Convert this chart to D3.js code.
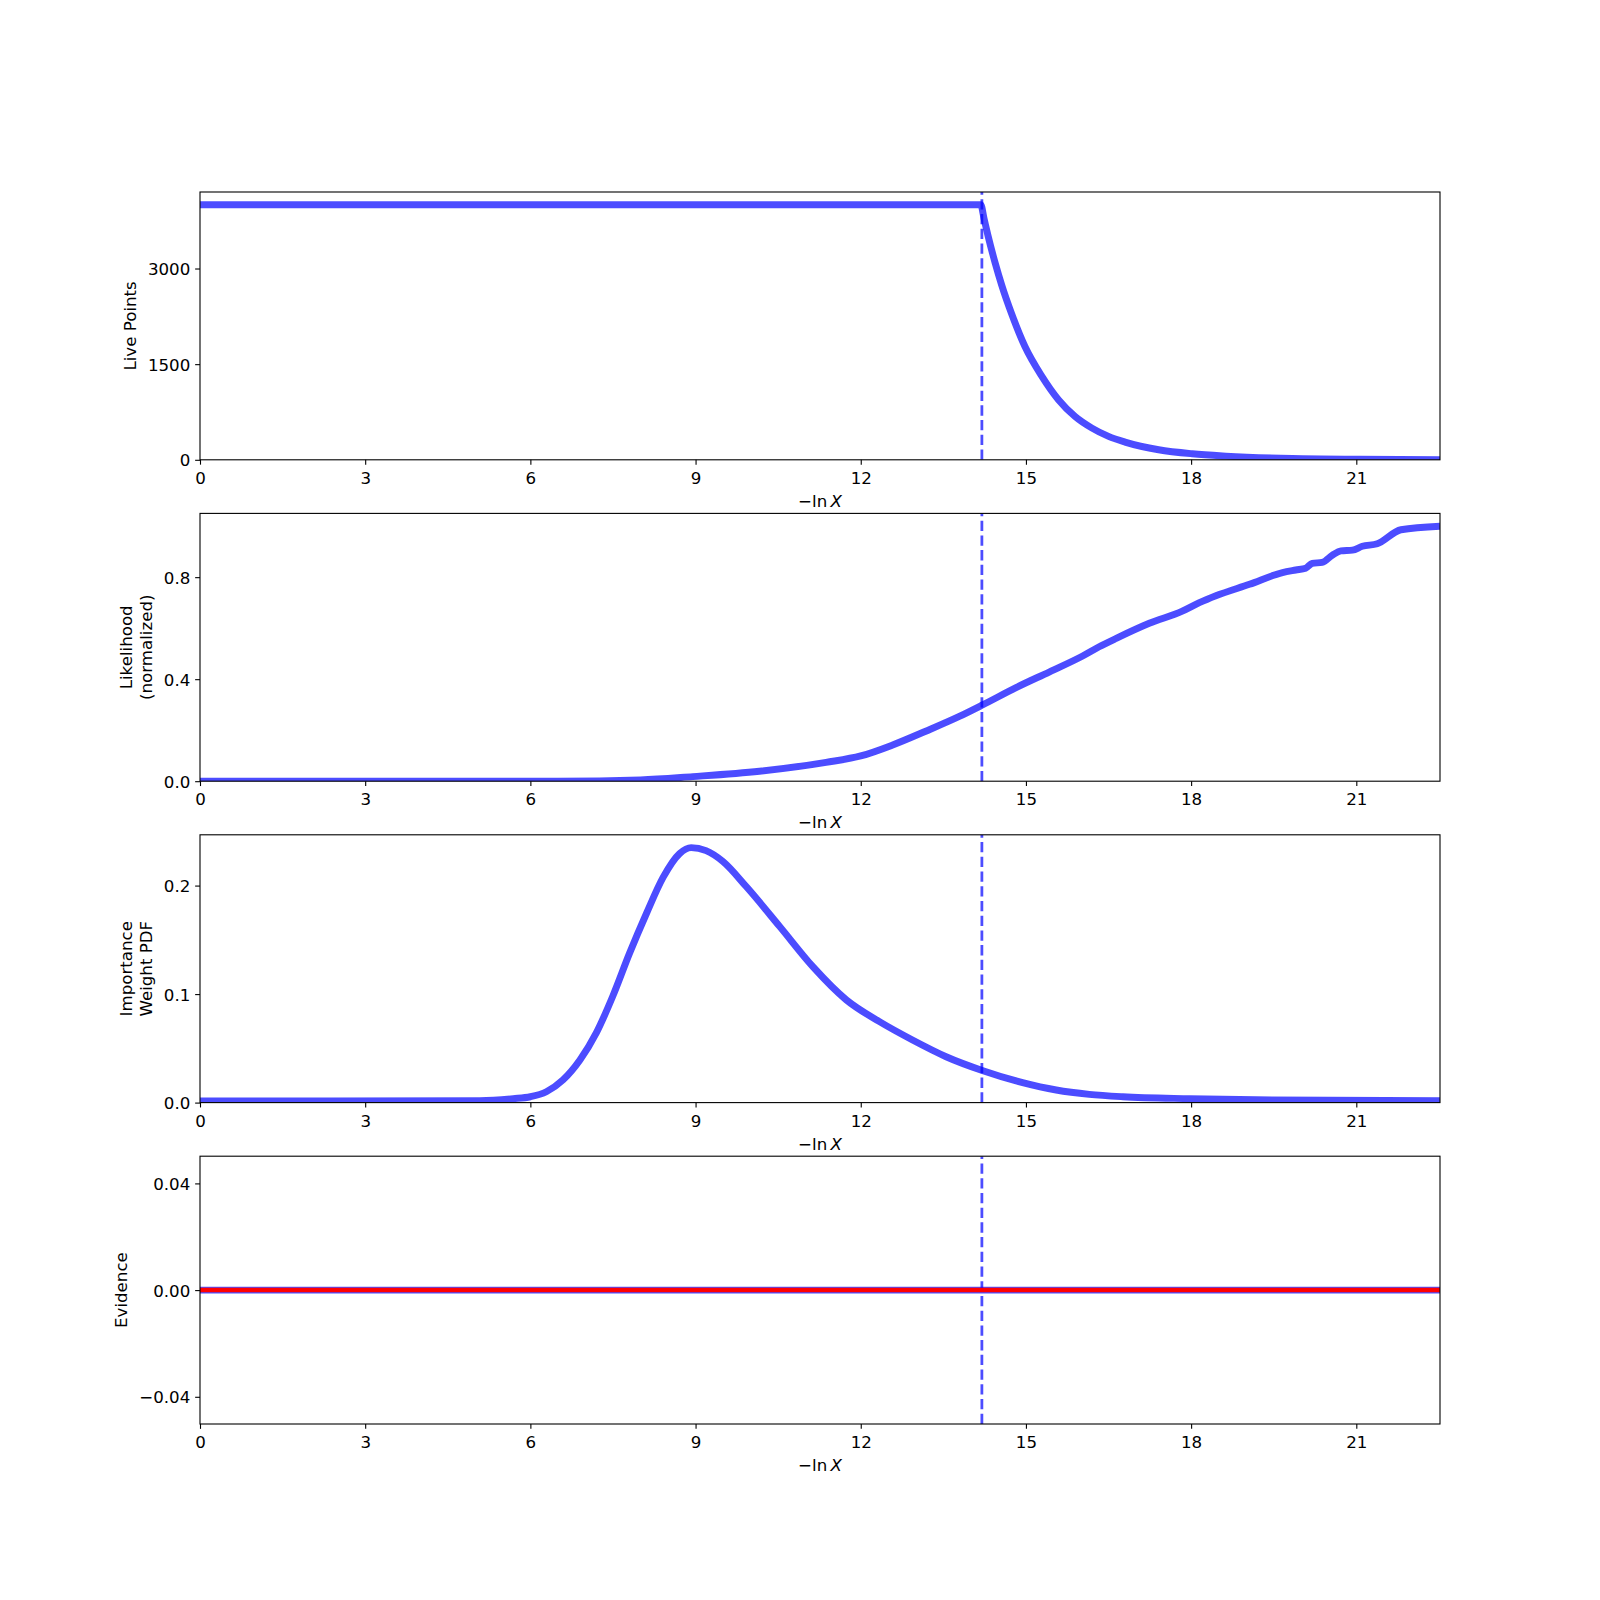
<!DOCTYPE html>
<html>
<head>
<meta charset="utf-8">
<script src="https://cdn.jsdelivr.net/npm/d3@7"></script>
<style>
  html, body { margin: 0; padding: 0; background: #fff; }
  svg { display: block; }
  text { font-family: "DejaVu Sans", sans-serif; fill: #000; }
</style>
</head>
<body>
<svg id="chart" width="1600" height="1600"></svg>
<script>
// ---------------- data ----------------
const xMax = 22.52;
const xTicks = [0, 3, 6, 9, 12, 15, 18, 21];
const cutLogVol = 14.2;   // dashed vertical marker

const liveX = [0, 14.18, 14.24, 14.31, 14.44, 14.56, 14.74, 14.98, 15.29, 15.59, 15.89, 16.20, 16.50, 16.80, 17.41, 18.02, 18.63, 19.84, 21.05, 22.52];
const liveY = [4000, 4000, 3780, 3520, 3090, 2740, 2290, 1780, 1309, 943, 681, 497, 367, 278, 157, 94, 58, 20, 8, 2];
const liveTicks = [0, 1500, 3000];

const likeX = [0, 6.5, 8.0, 8.95, 10.16, 11.37, 12.0, 12.58, 13.18, 13.79, 14.22, 14.82, 15.43, 16.03, 16.33, 16.64, 17.24, 17.84, 18.15, 18.45, 19.06, 19.66, 19.9, 20.08, 20.2, 20.38, 20.57, 20.72, 20.93, 21.11, 21.38, 21.81, 22.52];
const likeY = [0, 0, 0.005, 0.018, 0.039, 0.074, 0.099, 0.142, 0.196, 0.254, 0.300, 0.367, 0.429, 0.491, 0.527, 0.560, 0.619, 0.667, 0.700, 0.727, 0.772, 0.818, 0.828, 0.835, 0.854, 0.858, 0.887, 0.903, 0.906, 0.921, 0.931, 0.986, 1.0];
const likeTicks = [0.0, 0.4, 0.8];

const pdfX = [0, 5.08, 5.69, 6.0, 6.29, 6.59, 6.90, 7.20, 7.50, 7.80, 8.11, 8.41, 8.71, 8.92, 9.19, 9.50, 9.92, 10.53, 11.13, 11.74, 12.34, 12.94, 13.55, 14.22, 14.94, 15.55, 16.15, 16.76, 17.97, 19.18, 22.52];
const pdfY = [0.0015, 0.0018, 0.0036, 0.0054, 0.010, 0.0208, 0.0393, 0.0645, 0.0985, 0.1375, 0.1745, 0.2075, 0.2295, 0.2350, 0.2322, 0.2221, 0.1991, 0.1622, 0.1253, 0.0946, 0.0746, 0.0577, 0.0423, 0.0294, 0.0184, 0.0116, 0.0076, 0.0054, 0.0036, 0.0026, 0.0018];
const pdfTicks = [0.0, 0.1, 0.2];

const evX = [0, 22.52];
const evY = [0, 0];
const evTruth = 0;
const evTicks = [-0.04, 0.00, 0.04];

const yLabels = [["Live Points"], ["Likelihood", "(normalized)"], ["Importance", "Weight PDF"], ["Evidence"]];

// ---------------- layout ----------------
const svg = d3.select("#chart");
const L = 200, R = 1440, H = 267.8;
const tops = [192, 513.4, 834.8, 1156.2];
const FS = 16.67;
const tickLen = 4.86;
const blue = "#0000ff";

const x = d3.scaleLinear().domain([0, xMax]).range([L, R]);

const panels = [
  { xs: liveX, ys: liveY, domain: [0, 4200], ticks: liveTicks, fmt: d3.format("d"), curve: d3.curveMonotoneX },
  { xs: likeX, ys: likeY, domain: [0, 1.05], ticks: likeTicks, fmt: d3.format(".1f"), curve: d3.curveMonotoneX },
  { xs: pdfX, ys: pdfY, domain: [0, 0.2468], ticks: pdfTicks, fmt: d3.format(".1f"), curve: d3.curveMonotoneX },
  { xs: evX, ys: evY, domain: [-0.0502, 0.0502], ticks: evTicks, fmt: d3.format(".2f"), curve: d3.curveLinear }
];

panels.forEach((p, i) => {
  const top = tops[i], bottom = top + H;
  const y = d3.scaleLinear().domain(p.domain).range([bottom, top]);
  const g = svg.append("g");

  const clipId = "clip" + i;
  svg.append("clipPath").attr("id", clipId)
    .append("rect").attr("x", L).attr("y", top).attr("width", R - L).attr("height", H);

  const plot = g.append("g").attr("clip-path", `url(#${clipId})`);
  const pts = p.xs.map((v, k) => [v, p.ys[k]]);
  const line = d3.line().x(d => x(d[0])).y(d => y(d[1])).curve(p.curve);

  // dashed marker (drawn bottom to top like matplotlib)
  plot.append("line")
    .attr("x1", x(cutLogVol)).attr("x2", x(cutLogVol))
    .attr("y1", bottom).attr("y2", top)
    .attr("stroke", blue).attr("stroke-opacity", 0.7)
    .attr("stroke-width", 2.78).attr("stroke-dasharray", "10.28,4.44");

  plot.append("path").datum(pts)
    .attr("d", line)
    .attr("fill", "none")
    .attr("stroke", blue).attr("stroke-opacity", 0.7)
    .attr("stroke-width", 6.94)
    .attr("stroke-linejoin", "round");

  if (i === 3) {
    plot.append("line")
      .attr("x1", L).attr("x2", R)
      .attr("y1", y(evTruth)).attr("y2", y(evTruth))
      .attr("stroke", "#ff0000").attr("stroke-width", 4.5);
  }

  // frame
  g.append("rect").attr("x", L).attr("y", top).attr("width", R - L).attr("height", H)
    .attr("fill", "none").attr("stroke", "#000").attr("stroke-width", 1.1);

  // x axis
  const xa = g.append("g").attr("transform", `translate(0,${bottom})`)
    .call(d3.axisBottom(x).tickValues(xTicks).tickFormat(d3.format("d")).tickSize(tickLen).tickPadding(7.3));
  xa.select(".domain").remove();
  xa.selectAll("line").attr("stroke", "#000").attr("stroke-width", 1.1);
  xa.selectAll("text").attr("font-size", FS).attr("font-family", "DejaVu Sans").attr("fill", "#000");

  // y axis
  const ya = g.append("g").attr("transform", `translate(${L},0)`)
    .call(d3.axisLeft(y).tickValues(p.ticks).tickFormat(p.fmt).tickSize(tickLen).tickPadding(4.86));
  ya.select(".domain").remove();
  ya.selectAll("line").attr("stroke", "#000").attr("stroke-width", 1.1);
  ya.selectAll("text").attr("font-size", FS).attr("font-family", "DejaVu Sans").attr("fill", "#000").attr("dy", "0.36em");

  // x label: −ln X
  const xl = g.append("text")
    .attr("x", (L + R) / 2).attr("y", bottom + 47)
    .attr("text-anchor", "middle").attr("font-size", FS);
  xl.append("tspan").text("\u2212ln\u2009");
  xl.append("tspan").attr("font-style", "italic").text("X");

  // y label placed left of the tick labels
  let minX = Infinity;
  ya.selectAll("text").each(function () {
    const b = this.getBBox();
    const m = this.getCTM();
    const left = m.e + b.x;
    if (left < minX) minX = left;
  });
  const lines = yLabels[i];
  const lastCx = minX - 18;
  const cy = top + H / 2;
  const yl = g.append("text")
    .attr("transform", `translate(${lastCx},${cy}) rotate(-90)`)
    .attr("text-anchor", "middle").attr("font-size", FS);
  lines.forEach((t, k) => {
    yl.append("tspan").attr("x", 0)
      .attr("y", -(lines.length - 1 - k) * 20)
      .attr("dy", "0.35em")
      .text(t);
  });
});
</script>
</body>
</html>
